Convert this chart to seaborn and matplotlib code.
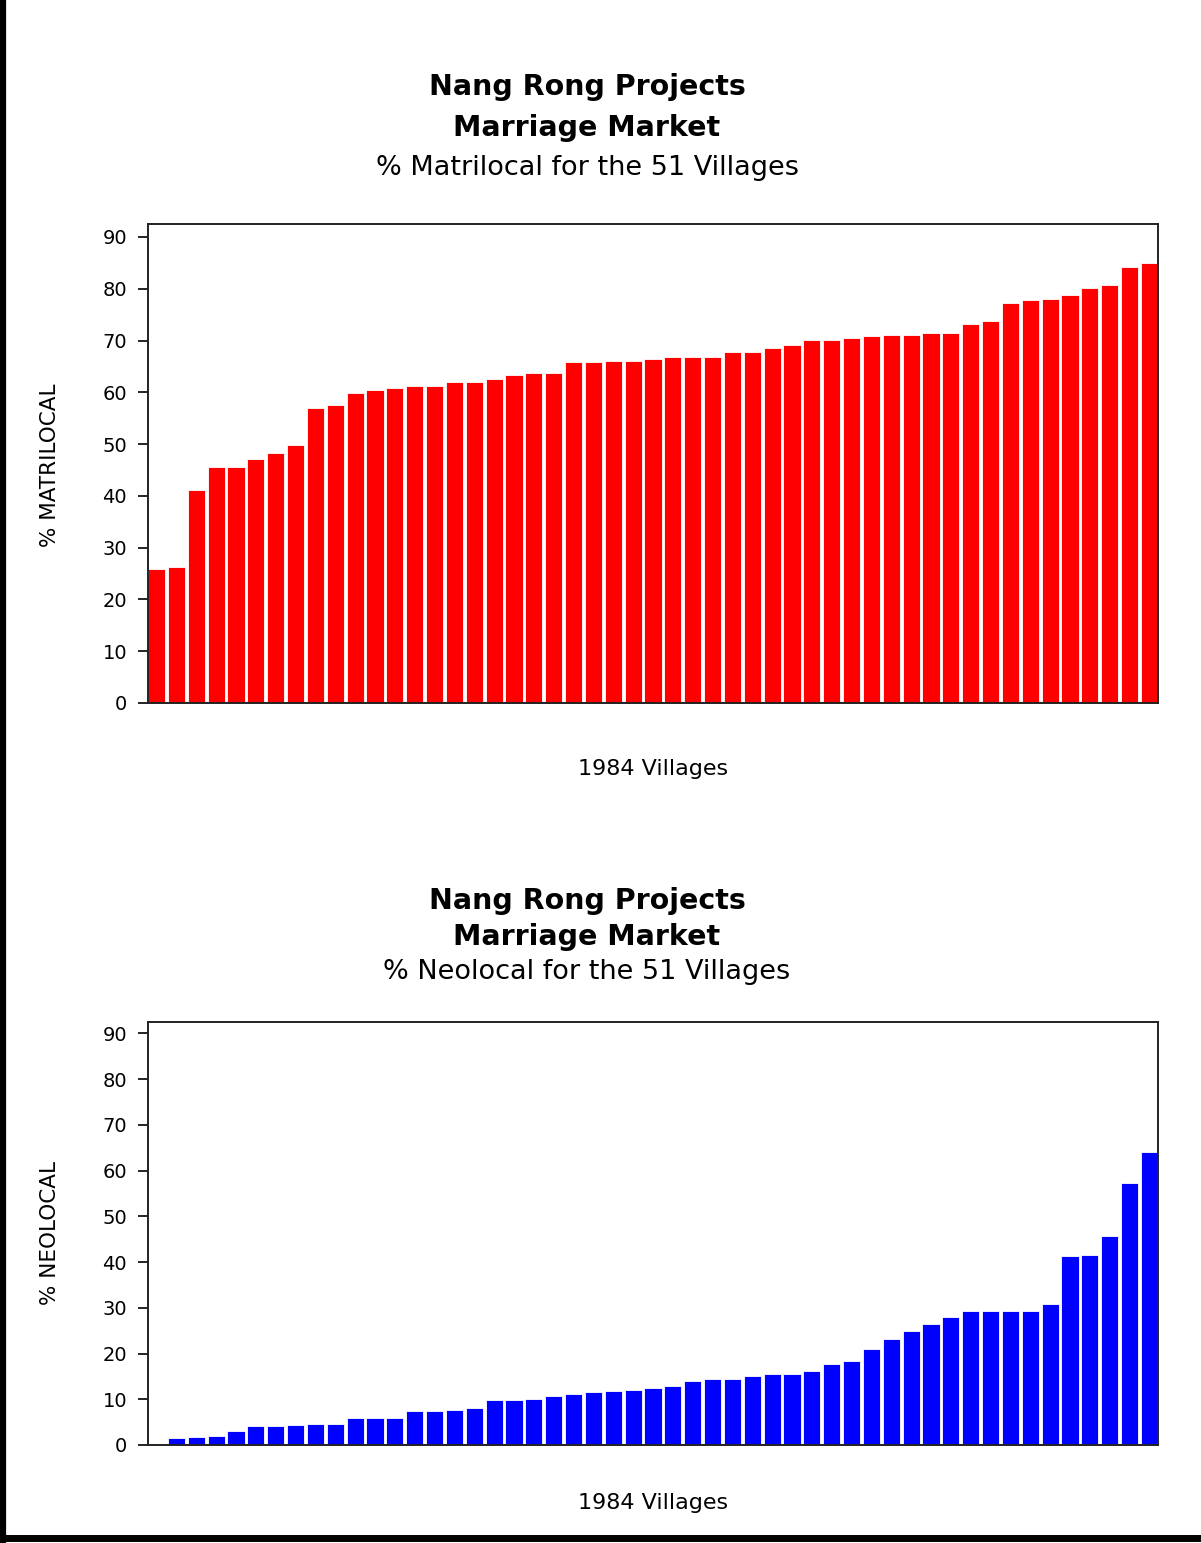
import numpy as np
import pandas as pd
import matplotlib
matplotlib.use("Agg")
import matplotlib.pyplot as plt
import seaborn as sns
from matplotlib.lines import Line2D

# % matrilocal per village (sorted), 51 villages
matrilocal = [25.8, 26.2, 41.2, 45.5, 45.5, 47.2, 48.2, 49.9, 56.9, 57.6,
              59.9, 60.5, 60.9, 61.2, 61.2, 61.9, 61.9, 62.6, 63.4, 63.8,
              63.8, 65.8, 65.8, 66.1, 66.1, 66.5, 66.8, 66.8, 66.8, 67.8,
              67.8, 68.5, 69.1, 70.1, 70.1, 70.4, 70.8, 71.1, 71.1, 71.5,
              71.5, 73.1, 73.8, 77.2, 77.8, 78.1, 78.8, 80.1, 80.8, 84.1,
              84.9]

# % neolocal per village (sorted), 51 villages
neolocal = [0.0, 1.5, 1.8, 2.0, 3.1, 4.1, 4.1, 4.4, 4.7, 4.7,
            6.0, 6.0, 6.0, 7.4, 7.4, 7.7, 8.0, 9.8, 9.8, 10.1,
            10.7, 11.1, 11.5, 11.8, 12.1, 12.5, 12.8, 14.1, 14.4, 14.4,
            15.0, 15.5, 15.5, 16.1, 17.8, 18.4, 21.1, 23.1, 24.9, 26.5,
            27.9, 29.2, 29.2, 29.2, 29.2, 30.8, 41.3, 41.6, 45.6, 57.3,
            64.0]

villages = list(range(1, 52))

df_mat = pd.DataFrame({"village": villages, "pct": matrilocal})
df_neo = pd.DataFrame({"village": villages, "pct": neolocal})

sns.set_style("white")
plt.rcParams['font.family'] = ['DejaVu Sans']
plt.rcParams['text.color'] = 'black'
plt.rcParams['axes.labelcolor'] = 'black'
plt.rcParams['ytick.color'] = 'black'
plt.rcParams['xtick.color'] = 'black'

W, H = 1201, 1543
fig = plt.figure(figsize=(W / 100, H / 100), dpi=100)


def make_panel(df, color, rect):
    ax = fig.add_axes(rect)
    sns.barplot(data=df, x="village", y="pct", color=color, width=0.86,
                edgecolor="white", linewidth=0.6, saturation=1, ax=ax)
    ax.set_ylim(0, 92.5)
    ax.set_xlim(-0.43, len(df) - 0.57)
    ax.set_yticks(range(0, 91, 10))
    ax.set_xticks([])
    ax.set_xlabel("")
    ax.set_ylabel("")
    ax.tick_params(axis="y", direction="out", length=7, width=1.2,
                   labelsize=14, color="black", left=True, pad=8)
    for s in ax.spines.values():
        s.set_visible(True)
        s.set_color("#222222")
        s.set_linewidth(1.4)
    return ax


ax1 = make_panel(df_mat, "#ff0000", [148 / W, 1 - 703 / H, 1010 / W, 479 / H])
ax2 = make_panel(df_neo, "#0000ff", [148 / W, 1 - 1445 / H, 1010 / W, 423 / H])

cx = 587 / W
panels = [
    (87, 128, 168, "% Matrilocal for the 51 Villages", 769, 465, "% MATRILOCAL"),
    (901, 937, 972, "% Neolocal for the 51 Villages", 1503, 1233, "% NEOLOCAL"),
]
for y1, y2, y3, sub, yx, yy, ylab in panels:
    fig.text(cx, 1 - y1 / H, "Nang Rong Projects", ha="center", va="center",
             fontsize=20.5, fontweight="bold")
    fig.text(cx, 1 - y2 / H, "Marriage Market", ha="center", va="center",
             fontsize=20.5, fontweight="bold")
    fig.text(cx, 1 - y3 / H, sub, ha="center", va="center", fontsize=19.5)
    fig.text(653 / W, 1 - yx / H, "1984 Villages", ha="center", va="center",
             fontsize=16)
    fig.text(50 / W, 1 - yy / H, ylab, ha="center", va="center",
             rotation=90, fontsize=15.5)

# page frame: left and bottom black rules
fig.add_artist(Line2D([3 / W, 3 / W], [0, 1], color="black", lw=4.5,
                      transform=fig.transFigure))
fig.add_artist(Line2D([0, 1], [5 / H, 5 / H], color="black", lw=5,
                      transform=fig.transFigure))

fig.savefig("out.png", dpi=100, facecolor="white")
